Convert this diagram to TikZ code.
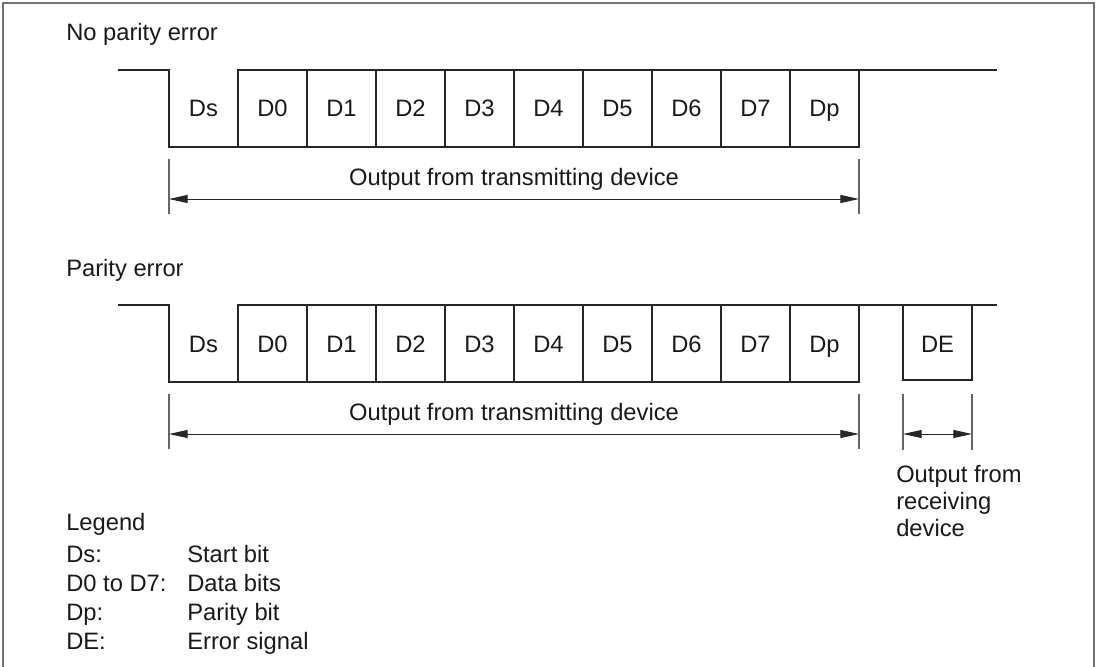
\documentclass[tikz,border=0pt]{standalone}
\usepackage{fontspec}
\setmainfont{Liberation Sans}
\usetikzlibrary{arrows.meta}
\begin{document}
\begin{tikzpicture}[x=0.75pt,y=-0.75pt,
  every node/.style={font=\fontsize{17.8}{20}\selectfont, inner sep=0pt, text=black!90},
  wave/.style={draw=black!85, line width=1.1pt},
  tick/.style={draw=black!60, line width=0.8pt},
  dim/.style={draw=black!85, line width=0.75pt, {Triangle[length=14pt,width=6pt]}-{Triangle[length=14pt,width=6pt]}},
  lbl/.style={anchor=base west},
  cell/.style={anchor=base},
  frame/.style={draw=black!55, line width=1.3pt}]
\useasboundingbox (0,0) rectangle (1099,667);
\draw[frame] (3,667) -- (3,3) -- (1094,3) -- (1094,667);

% titles
\node[lbl] (t1) at (66,41) {No parity error};
\node[lbl] (t2) at (66,276) {Parity error};

% waveforms
\foreach \o/\n in {0/a,235/b}{
  \draw[wave] (118,70+\o) -- (169,70+\o) -- (169,147+\o) -- (859,147+\o) -- (859,70+\o);
  \draw[wave] (238,147+\o) -- (238,70+\o) -- (997,70+\o);
  \foreach \k in {2,...,9}{
    \draw[wave] ({169+69*\k},70+\o) -- ({169+69*\k},147+\o);
  }
  \foreach \lab [count=\i from 0] in {Ds,D0,D1,D2,D3,D4,D5,D6,D7,Dp}{
    \node[cell] (\n\i) at ({203.5+69*\i},117+\o) {\lab};
  }
  \coordinate (\n L0) at (169,159+\o);
  \coordinate (\n L1) at (169,214+\o);
  \coordinate (\n R0) at (859,159+\o);
  \coordinate (\n R1) at (859,214+\o);
  \draw[tick] (\n L0) -- (\n L1);
  \draw[tick] (\n R0) -- (\n R1);
  \coordinate (\n A) at (169,199+\o);
  \coordinate (\n B) at (859,199+\o);
  \draw[dim] (\n A) -- (\n B);
  \node[anchor=base] (\n out) at (514,185+\o) {Output from transmitting device};
}

% error signal
\draw[wave] (903,305) -- (903,380) -- (972,380) -- (972,305);
\node[cell] (de) at (937.5,352) {DE};
\coordinate (e0) at (903,394);
\coordinate (e1) at (903,450);
\coordinate (f0) at (972,394);
\coordinate (f1) at (972,450);
\draw[tick] (e0) -- (e1);
\draw[tick] (f0) -- (f1);
\coordinate (eA) at (903,434);
\coordinate (eB) at (972,434);
\draw[dim] (eA) -- (eB);
\node[lbl] (r1) at (896,482) {Output from};
\node[lbl] (r2) at (896,509) {receiving};
\node[lbl] (r3) at (896,536) {device};

% legend
\node[lbl] (lg) at (66,530) {Legend};
\node[lbl] (k1) at (66,562) {Ds:};
\node[lbl] (k2) at (66,591) {D0 to D7:};
\node[lbl] (k3) at (66,620) {Dp:};
\node[lbl] (k4) at (66,649) {DE:};
\node[lbl] (v1) at (187,562) {Start bit};
\node[lbl] (v2) at (187,591) {Data bits};
\node[lbl] (v3) at (187,620) {Parity bit};
\node[lbl] (v4) at (187,649) {Error signal};
\end{tikzpicture}
\end{document}
